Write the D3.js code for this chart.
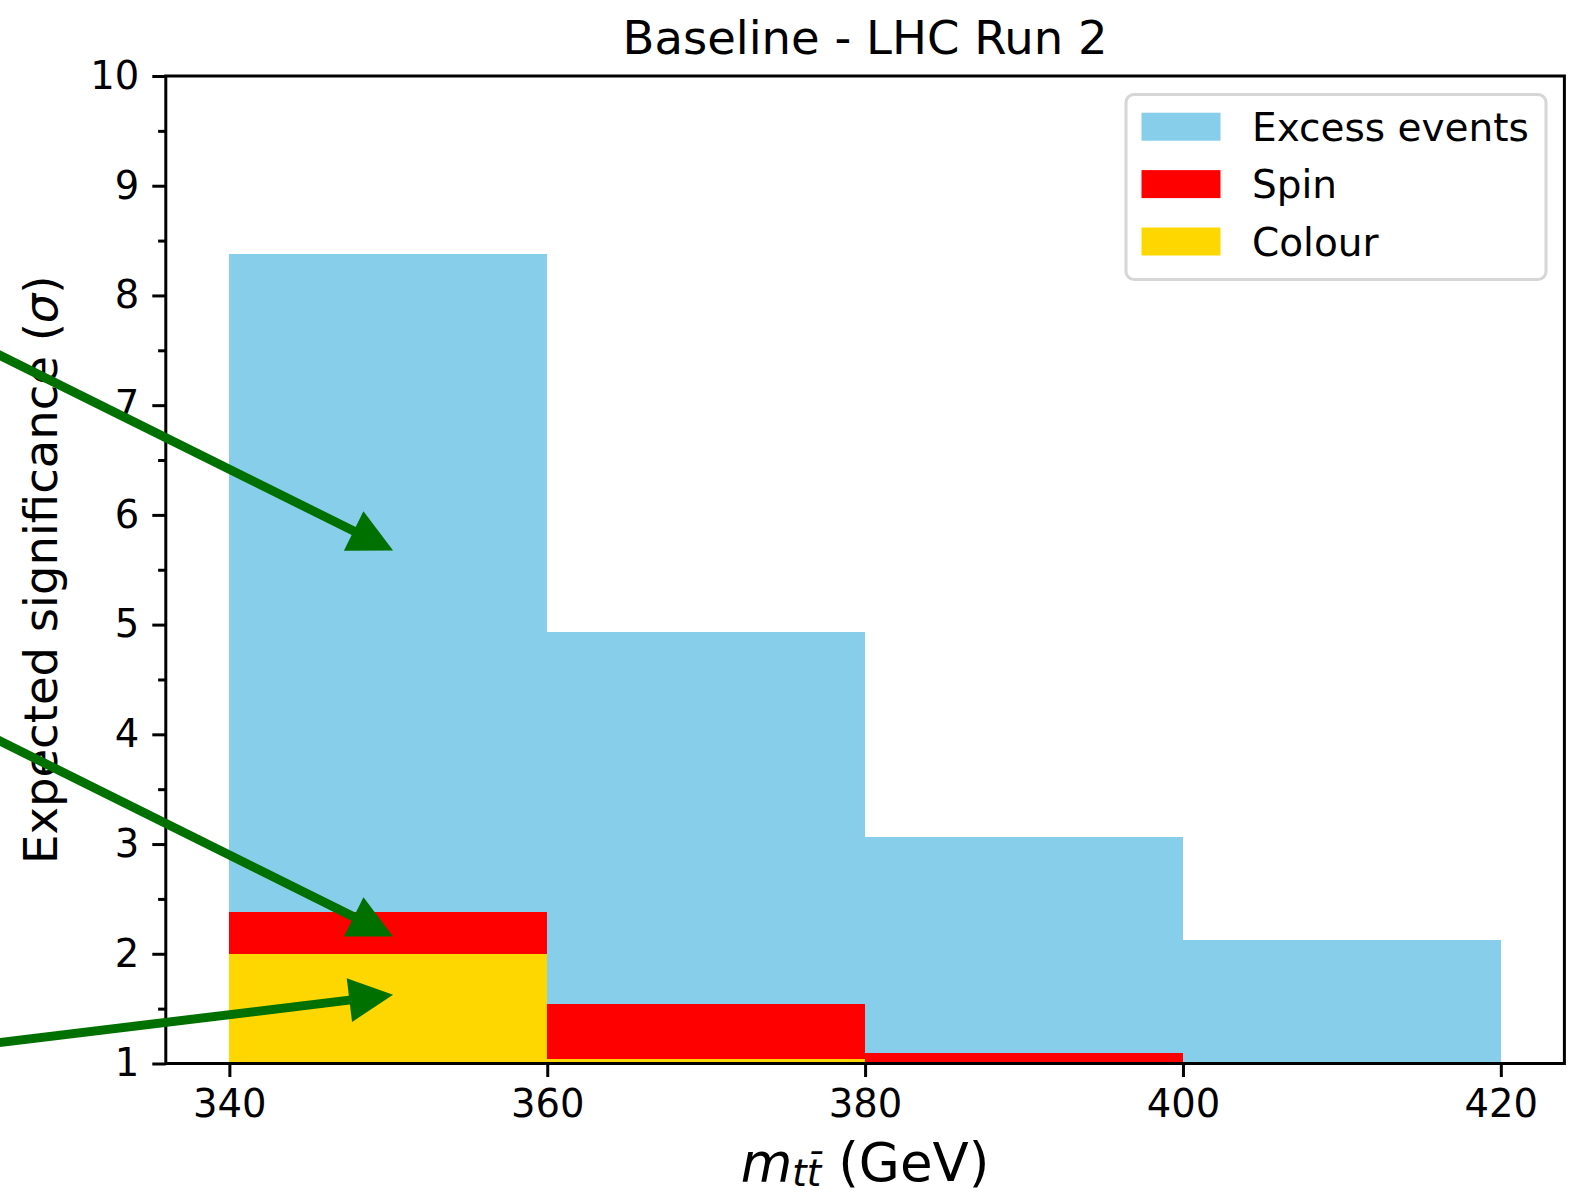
<!DOCTYPE html>
<html>
<head>
<meta charset="utf-8">
<script src="https://cdn.jsdelivr.net/npm/d3@7"></script>
<style>
body { margin: 0; background: #fff; }
text { font-family: "DejaVu Sans", sans-serif; fill: #000; }
</style>
</head>
<body>
<script>
// bin edges of m_tt (GeV)
var binEdges = [340, 360, 380, 400, 420];

// expected significance per bin
var excessEvents = [8.38, 4.93, 3.06, 2.13];
var spinValues = [2.38, 1.54, 1.094, 1.0];
var colourValues = [2.0, 1.04, 1.0, 1.0];

var seriesNames = ["Excess events", "Spin", "Colour"];
var seriesColors = ["#87ceeb", "#ff0000", "#ffd700"];

var xTicks = [340, 360, 380, 400, 420];
var yTicks = [1, 2, 3, 4, 5, 6, 7, 8, 9, 10];
var yMinorTicks = [1.5, 2.5, 3.5, 4.5, 5.5, 6.5, 7.5, 8.5, 9.5];

// annotation arrows: tail (off the left edge) and tip, in data units
var arrowTails = [[320, 7.854], [320, 4.34], [320, 1.093]];
var arrowTips = [[350.3, 5.675], [350.3, 2.158], [350.3, 1.626]];

var W = 1571, H = 1195;
var plotL = 165.8, plotR = 1564.4, plotT = 76, plotB = 1063.5;

var svg = d3.select("body").append("svg")
	.attr("width", W)
	.attr("height", H);

var x = d3.scaleLinear().domain([336, 424]).range([plotL, plotR]);
var y = d3.scaleLinear().domain([1, 10]).range([plotB, plotT]);

//BARS, one layer per series drawn on top of each other
var series = [excessEvents, spinValues, colourValues];
series.forEach(function(vals, s){
	svg.append("g").selectAll("rect")
		.data(vals)
		.enter().append("rect")
		.attr("x", function(d, i){ return x(binEdges[i]) })
		.attr("width", function(d, i){ return x(binEdges[i + 1]) - x(binEdges[i]) })
		.attr("y", function(d){ return y(d) })
		.attr("height", function(d){ return y(1) - y(d) })
		.attr("shape-rendering", "crispEdges")
		.style("fill", seriesColors[s])
})

//AXES
var yAxis = svg.append("g")
	.attr("transform", "translate(" + plotL + ",0)")
	.call(d3.axisLeft(y).tickValues(yTicks).tickFormat(d3.format("d"))
		.tickSize(13.5).tickPadding(13).tickSizeOuter(0))
var yMinor = svg.append("g")
	.attr("transform", "translate(" + plotL + ",0)")
	.call(d3.axisLeft(y).tickValues(yMinorTicks).tickFormat("")
		.tickSize(7.7).tickSizeOuter(0))
var xAxis = svg.append("g")
	.attr("transform", "translate(0," + plotB + ")")
	.call(d3.axisBottom(x).tickValues(xTicks).tickFormat(d3.format("d"))
		.tickSize(13.5).tickPadding(13).tickSizeOuter(0))

;[yAxis, yMinor, xAxis].forEach(function(a){
	a.select(".domain").remove()
	a.selectAll("line").style("stroke", "#000").style("stroke-width", 3)
	a.selectAll("text").style("font-size", "38.5px").style("font-family", "DejaVu Sans")
})

//FRAME
svg.append("rect")
	.attr("x", plotL).attr("y", plotT)
	.attr("width", plotR - plotL).attr("height", plotB - plotT)
	.style("fill", "none").style("stroke", "#000").style("stroke-width", 3)

//LEGEND
var lg = svg.append("g")
lg.append("rect")
	.attr("x", 1126).attr("y", 94.5).attr("width", 420).attr("height", 185)
	.attr("rx", 8)
	.style("fill", "#fff").style("stroke", "#d6d6d6").style("stroke-width", 3)
var rows = lg.selectAll("g.row").data(seriesNames).enter().append("g")
	.attr("transform", function(d, i){ return "translate(0," + (i * 57.4) + ")" })
rows.append("rect")
	.attr("x", 1141.5).attr("y", 112.7).attr("width", 79).attr("height", 28)
	.style("fill", function(d, i){ return seriesColors[i] })
rows.append("text")
	.attr("x", 1252).attr("y", 141)
	.style("font-size", "39px")
	.text(function(d){ return d })

//TITLE AND AXIS LABELS
svg.append("text")
	.attr("x", (plotL + plotR) / 2).attr("y", 54)
	.attr("text-anchor", "middle")
	.style("font-size", "46.5px")
	.text("Baseline - LHC Run 2")

var yl = svg.append("text")
	.attr("transform", "translate(57," + ((plotT + plotB) / 2) + ") rotate(-90)")
	.attr("text-anchor", "middle")
	.style("font-size", "46.5px")
yl.append("tspan").text("Expected significance (")
yl.append("tspan").style("font-style", "italic").text("σ")
yl.append("tspan").text(")")

var xl = svg.append("text")
	.attr("x", (plotL + plotR) / 2).attr("y", 1181)
	.attr("text-anchor", "middle")
	.style("font-size", "53px")
xl.append("tspan").style("font-style", "italic").text("m")
xl.append("tspan").style("font-style", "italic").style("font-size", "37px")
	.attr("dy", 5).text("tt\u0304")
xl.append("tspan").attr("dy", -5).text(" (GeV)")

//ARROWS
var headLen = 44, headHalf = 22, shaft = 9;
var arrowColor = "#007000";
arrowTips.forEach(function(tip, i){
	var x0 = x(arrowTails[i][0]), y0 = y(arrowTails[i][1])
	var x1 = x(tip[0]), y1 = y(tip[1])
	var dx = x1 - x0, dy = y1 - y0
	var len = Math.sqrt(dx * dx + dy * dy)
	var ux = dx / len, uy = dy / len
	var bx = x1 - ux * headLen, by = y1 - uy * headLen
	svg.append("line")
		.attr("x1", x0).attr("y1", y0)
		.attr("x2", bx + ux * 4).attr("y2", by + uy * 4)
		.style("stroke", arrowColor).style("stroke-width", shaft)
	svg.append("polygon")
		.attr("points", [
			[x1, y1],
			[bx - uy * headHalf, by + ux * headHalf],
			[bx + uy * headHalf, by - ux * headHalf]
		].map(function(p){ return p.join(",") }).join(" "))
		.style("fill", arrowColor)
})
</script>
</body>
</html>
